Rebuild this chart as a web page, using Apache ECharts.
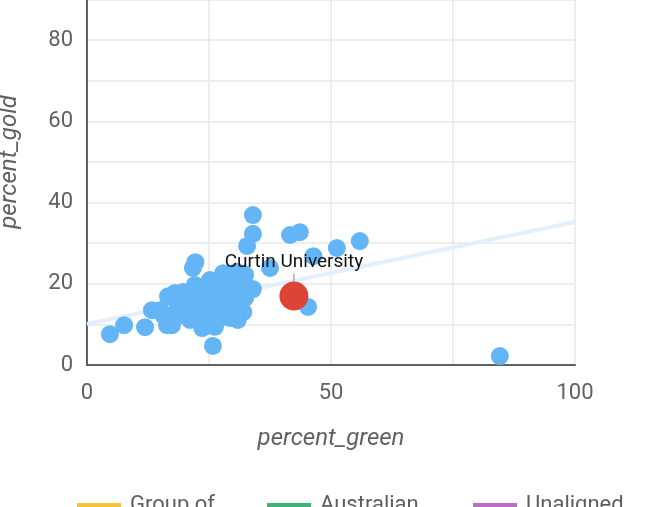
<!DOCTYPE html>
<html>
<head>
<meta charset="utf-8">
<script src="https://cdn.jsdelivr.net/npm/echarts@6/dist/echarts.min.js"></script>
<style>
  html, body { margin: 0; padding: 0; background: #fff; }
  #chart_main { width: 662px; height: 507px; }
</style>
</head>
<body>
<div id="chart_main"></div>
<script type="text/javascript">
// percent_green vs percent_gold, one point per university
var otherPoints = [
    [4.7, 7.6], [7.6, 9.8], [11.9, 9.3], [13.3, 13.5], [16.4, 9.8], [16.6, 16.9],
    [19.5, 17.4], [21.7, 23.9], [22.2, 25.3], [25.8, 4.7], [23.9, 9.4], [26.2, 9.4],
    [34.0, 36.9], [34.0, 32.3], [32.8, 29.3], [41.6, 32.0], [43.6, 32.7], [46.4, 26.8],
    [51.2, 28.8], [55.9, 30.5], [37.5, 23.9], [34.0, 18.7], [45.3, 14.3], [84.6, 2.2],
    [18.0, 17.7], [19.7, 18.0], [17.4, 9.8], [16.6, 11.6], [19.1, 12.3], [21.1, 13.5],
    [23.2, 14.8], [25.2, 16.0], [27.3, 17.2], [29.3, 18.5], [31.4, 19.7], [25.2, 20.9],
    [27.9, 22.6], [30.7, 22.9], [29.3, 11.6], [32.0, 13.0], [23.6, 9.1], [20.1, 14.8],
    [22.1, 17.2], [24.2, 18.5], [26.2, 19.7], [28.3, 20.9], [30.3, 21.4], [32.4, 22.2],
    [27.3, 13.5], [29.3, 14.8], [31.4, 16.0], [23.2, 11.6], [25.2, 12.3], [21.1, 11.1],
    [18.6, 14.0], [26.2, 16.0], [28.3, 16.0], [24.2, 14.0], [30.3, 17.2], [32.4, 16.5],
    [28.9, 19.2], [15.0, 13.5], [15.6, 12.3], [22.1, 19.7], [26.8, 11.1], [30.9, 11.1]
];
var curtinName = 'Curtin University';
var curtinPoint = [42.4, 17.0];
var trendLine = [[0, 10.1], [100, 35.2]];

var xLabels = [0, 50, 100];
var yLabels = [0, 20, 40, 60, 80];

var groupNames = ['Group of\nEight', 'Australian\nTechnology\nNetwork', 'Unaligned'];
var groupColors = ['#f4b400', '#0f9d58', '#ab47bc'];
var legendLeft = [72, 262, 468];

var myChart = echarts.init(document.getElementById('chart_main'));

var series_data = [];
series_data.push({
    name: 'trend', type: 'line', data: trendLine, symbol: 'none', silent: true,
    lineStyle: { color: '#e3f0fc', width: 4 }, z: 1
});
series_data.push({
    name: 'other', type: 'scatter', data: otherPoints, symbolSize: 18,
    itemStyle: { color: '#64b5f6', opacity: 1 }, z: 2
});
for (var i = 0; i < groupNames.length; i++) {
    series_data.push({ name: groupNames[i], type: 'scatter', data: [], itemStyle: { color: groupColors[i] } });
}
series_data.push({
    name: curtinName, type: 'scatter', data: [curtinPoint], symbolSize: 29,
    itemStyle: { color: '#db4437', opacity: 1 }, z: 3,
    label: {
        show: true, position: 'top', distance: -1,
        formatter: '{t|' + curtinName + '}\n{l|}',
        rich: {
            t: { fontFamily: 'Roboto', fontSize: 19, color: '#111', lineHeight: 22 },
            l: { width: 1, height: 9, backgroundColor: '#888' }
        }
    }
});

// wrapped legend names: blank lines on top keep the first line level with the icon
function legendText(name) {
    var lines = name.split('\n');
    var pad = [];
    for (var k = 1; k < lines.length; k++) pad.push('{s| }');
    var txt = lines.map(function (s) { return '{a|' + s + '}'; });
    return pad.concat(txt).join('\n');
}
// one legend per entry, fixed slots like the original
var legends = groupNames.map(function (name, idx) {
    var n = name.split('\n').length;
    return {
        data: [name], left: legendLeft[idx], top: 502 - (2 * n - 1) * 13,
        icon: 'rect', itemWidth: 44, itemHeight: 4, selectedMode: false,
        formatter: legendText,
        textStyle: {
            rich: {
                s: { fontSize: 22, lineHeight: 26 },
                a: { fontSize: 22, lineHeight: 26, color: '#5f5f5f', fontFamily: 'Roboto', padding: [0, 0, 0, 4] }
            }
        }
    };
});

var option = {
    animation: false,
    textStyle: { fontFamily: 'Roboto' },
    grid: { left: 87, right: 87, top: -41.25, bottom: 142, outerBoundsMode: 'none', containLabel: false },
    legend: legends,
    xAxis: {
        type: 'value', min: 0, max: 100, interval: 25,
        name: 'percent_green', nameLocation: 'middle', nameGap: 62,
        nameTextStyle: { fontSize: 24, fontStyle: 'italic', color: '#616161' },
        axisLine: { lineStyle: { color: '#616161', width: 2 } },
        axisTick: { show: false },
        axisLabel: {
            fontSize: 22, color: '#616161', margin: 17,
            formatter: function (v) { return xLabels.indexOf(v) >= 0 ? String(v) : ''; }
        },
        splitLine: { lineStyle: { color: '#e8e8e8', width: 1.5 } }
    },
    yAxis: {
        type: 'value', min: 0, max: 100, interval: 10,
        name: 'percent_gold', nameLocation: 'middle', nameGap: 65,
        nameTextStyle: { fontSize: 24, fontStyle: 'italic', color: '#616161' },
        axisLine: { show: true, lineStyle: { color: '#616161', width: 2 } },
        axisTick: { show: false },
        axisLabel: {
            fontSize: 22, color: '#616161', margin: 14,
            formatter: function (v) { return yLabels.indexOf(v) >= 0 ? String(v) : ''; }
        },
        splitLine: { lineStyle: { color: '#e8e8e8', width: 1.5 } }
    },
    series: series_data
};
myChart.setOption(option);
</script>
</body>
</html>
